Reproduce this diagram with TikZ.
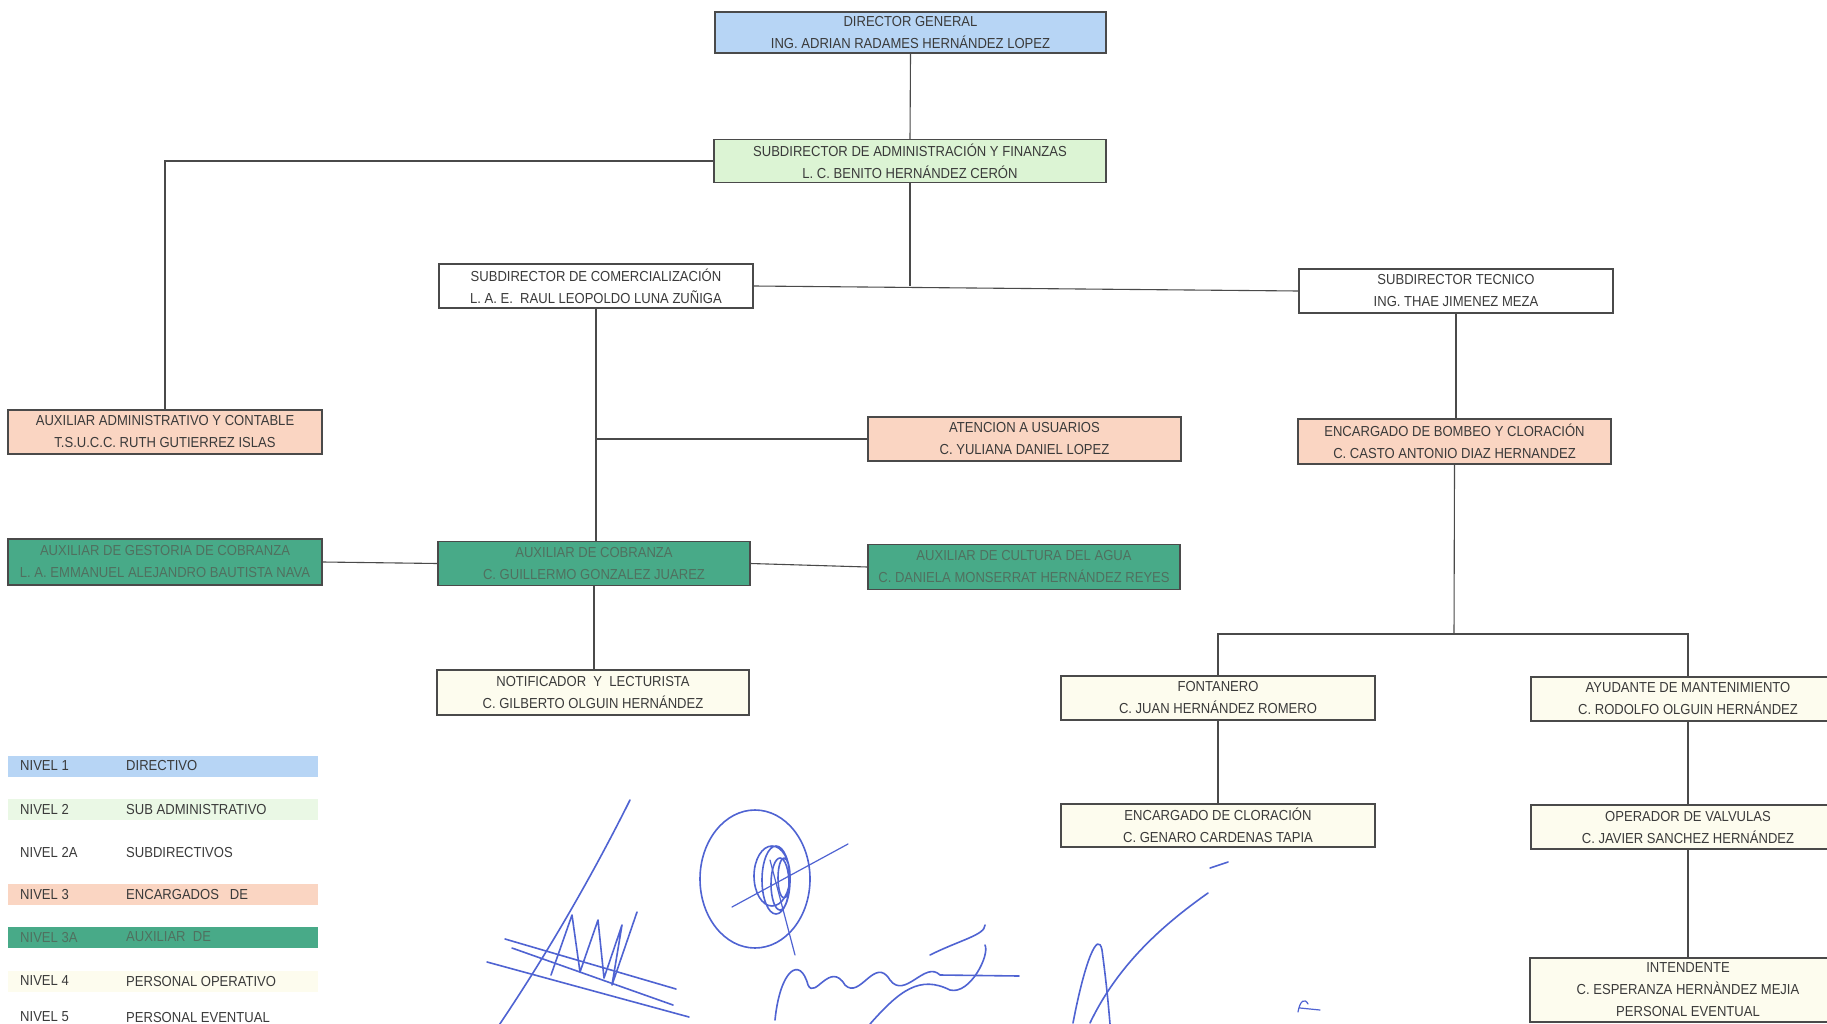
\documentclass[tikz,border=0pt]{standalone}
\usepackage{fontspec}
\setmainfont{Liberation Sans}[FakeStretch=0.9]
\usepackage{xcolor}
\definecolor{lvone}{HTML}{B7D5F5}
\definecolor{lvtwo}{HTML}{DCF4D4}
\definecolor{lvthree}{HTML}{FAD5C2}
\definecolor{lvaux}{HTML}{48AA88}
\definecolor{lvfour}{HTML}{FDFCEE}
\definecolor{auxtext}{HTML}{50705F}
\definecolor{inktext}{HTML}{3A3A3A}
\definecolor{boxline}{HTML}{4A4A4A}
\definecolor{pen}{HTML}{4F63D2}

\begin{document}
\begin{tikzpicture}[x=1pt,y=-1pt,
		puesto/.style={draw=boxline, line width=1.1pt, minimum width=314pt, minimum height=44pt, inner sep=0pt, align=center, text=inktext, font=\fontsize{14.5}{22}\selectfont},
		directivo/.style={puesto, fill=lvone},
		subadmin/.style={puesto, fill=lvtwo},
		subdir/.style={puesto, fill=white},
		encargado/.style={puesto, fill=lvthree},
		auxiliar/.style={puesto, fill=lvaux, text=auxtext},
		operativo/.style={puesto, fill=lvfour},
		liga/.style={draw=boxline, line width=1.1pt},
		legband/.style={minimum width=310pt, minimum height=21pt, inner sep=0pt},
		legtext/.style={anchor=west, inner sep=0pt, text=inktext, font=\fontsize{14.5}{17}\selectfont},
		firma/.style={draw=pen, line width=1.6pt, line cap=round, line join=round}]
	\useasboundingbox[fill=white] (0,0) rectangle (1827,1024);

	\node[directivo, minimum width=391pt, minimum height=41pt] (dir) at (910.5,32.5) {DIRECTOR GENERAL\\ING. ADRIAN RADAMES HERNÁNDEZ LOPEZ};
	\node[subadmin, minimum width=392pt, minimum height=43pt] (adm) at (910,161) {SUBDIRECTOR DE ADMINISTRACIÓN Y FINANZAS\\L. C. BENITO HERNÁNDEZ CERÓN};
	\node[subdir] (com) at (596,286) {SUBDIRECTOR DE COMERCIALIZACIÓN\\L. A. E.\ \ RAUL LEOPOLDO LUNA ZUÑIGA};
	\node[subdir] (tec) at (1456,291) {SUBDIRECTOR TECNICO\\ING. THAE JIMENEZ MEZA};
	\node[encargado] (auxadm) at (165,432) {AUXILIAR ADMINISTRATIVO Y CONTABLE\\T.S.U.C.C. RUTH GUTIERREZ ISLAS};
	\node[encargado, minimum width=313pt] (ate) at (1024.5,439) {ATENCION A USUARIOS\\C. YULIANA DANIEL LOPEZ};
	\node[encargado, minimum width=313pt, minimum height=45pt] (bom) at (1454.5,441.5) {ENCARGADO DE BOMBEO Y CLORACIÓN\\C. CASTO ANTONIO DIAZ HERNANDEZ};
	\node[auxiliar, minimum height=46pt] (ges) at (165,562) {AUXILIAR DE GESTORIA DE COBRANZA\\L. A. EMMANUEL ALEJANDRO BAUTISTA NAVA};
	\node[auxiliar, minimum width=312pt] (cob) at (594,563.5) {AUXILIAR DE COBRANZA\\C. GUILLERMO GONZALEZ JUAREZ};
	\node[auxiliar, minimum width=312pt, minimum height=45pt] (cul) at (1024,567) {AUXILIAR DE CULTURA DEL AGUA\\C. DANIELA MONSERRAT HERNÁNDEZ REYES};
	\node[operativo, minimum width=312pt, minimum height=45pt] (not) at (593,692.5) {NOTIFICADOR\ \ Y\ \ LECTURISTA\\C. GILBERTO OLGUIN HERNÁNDEZ};
	\node[operativo] (fon) at (1218,698) {FONTANERO\\C. JUAN HERNÁNDEZ ROMERO};
	\node[operativo] (ayu) at (1688,699) {AYUDANTE DE MANTENIMIENTO\\C. RODOLFO OLGUIN HERNÁNDEZ};
	\node[operativo, minimum height=43pt] (clo) at (1218,825.5) {ENCARGADO DE CLORACIÓN\\C. GENARO CARDENAS TAPIA};
	\node[operativo] (ope) at (1688,827) {OPERADOR DE VALVULAS\\C. JAVIER SANCHEZ HERNÁNDEZ};
	\node[operativo, minimum width=316pt, minimum height=64pt] (int) at (1688,990) {INTENDENTE\\C. ESPERANZA HERNÀNDEZ MEJIA\\PERSONAL EVENTUAL};

	\coordinate (split) at (1454,634);

	\draw[liga] (dir.south) -- (adm.north);
	\draw[liga] (adm.west) -| (auxadm.north);
	\draw[liga] (com.east) -- (tec.west);
	\draw[liga] (adm.south) -- (adm.south |- com.east);
	\draw[liga] (com.south) -- (com.south |- cob.north);
	\draw[liga] (ate.west) -- (ate.west -| com.south);
	\draw[liga] (cob.south) -- (cob.south |- not.north);
	\draw[liga] (ges.east) -- (cob.west);
	\draw[liga] (cob.east) -- (cul.west);
	\draw[liga] (tec.south) -- (tec.south |- bom.north);
	\draw[liga] (bom.south) -- (split);
	\draw[liga] (fon.north) |- (split) -| (ayu.north);
	\draw[liga] (fon.south) -- (clo.north);
	\draw[liga] (ayu.south) -- (ope.north);
	\draw[liga] (ope.south) -- (int.north);

	\foreach \yy/\col/\lev/\desc/\nm in {766/lvone/NIVEL 1/DIRECTIVO/a,809/lvtwo!60!white/NIVEL 2/SUB ADMINISTRATIVO/b,852/white/NIVEL 2A/SUBDIRECTIVOS/c,894/lvthree/NIVEL 3/ENCARGADOS\ \ \ DE/d,937/lvaux/NIVEL 3A/AUXILIAR\ \ DE/e,981/lvfour/NIVEL 4/PERSONAL OPERATIVO/f,1017/white/NIVEL 5/PERSONAL EVENTUAL/g}{
		\node[legband, fill=\col] (band\nm) at (163,\yy) {};
	}
	\foreach \yy/\lev/\desc/\nm/\tc in {766/NIVEL 1/DIRECTIVO/a/inktext,809/NIVEL 2/SUB ADMINISTRATIVO/b/inktext,852/NIVEL 2A/SUBDIRECTIVOS/c/inktext,894/NIVEL 3/ENCARGADOS\ \ \ DE/d/inktext,937/NIVEL 3A/AUXILIAR\ \ DE/e/auxtext,981/NIVEL 4/PERSONAL OPERATIVO/f/inktext,1017/NIVEL 5/PERSONAL EVENTUAL/g/inktext}{
		\node[legtext, text=\tc] (lev\nm) at (20,\yy) {\lev};
		\node[legtext, text=\tc] (desc\nm) at (126,\yy) {\desc};
	}

	% firmas
	\draw[firma] (630,800) .. controls (580,900) and (530,980) .. (491,1037);
	\draw[firma] (505,939) -- (676,989) (487,962) -- (689,1017) (512,948) -- (673,1005);
	\draw[firma] (551,975) -- (572,915) -- (580,972) -- (598,920) -- (604,978) -- (622,925) -- (612,985) -- (637,912);
	\draw[firma] (755,879) ellipse [x radius=55, y radius=69];
	\draw[firma] (776,880) ellipse [x radius=14, y radius=34] (780,884) ellipse [x radius=9, y radius=26] (772,876) ellipse [x radius=18, y radius=30] (784,878) ellipse [x radius=6, y radius=20];
	\draw[firma, line width=1.2pt] (732,907) -- (848,844);
	\draw[firma, line width=1.2pt] (770,860) -- (795,955);
	\draw[firma] (775,1020) .. controls (780,970) and (800,955) .. (808,985) .. controls (815,1000) and (830,960) .. (845,985) .. controls (860,1000) and (875,955) .. (890,980) .. controls (905,1000) and (925,960) .. (940,975) -- (1019,976);
	\draw[firma] (870,1024) .. controls (900,990) and (920,975) .. (950,990) .. controls (970,995) and (990,955) .. (985,945);
	\draw[firma] (930,955) .. controls (960,940) and (985,935) .. (985,925);
	\draw[firma] (1208,893) .. controls (1170,920) and (1120,960) .. (1090,1023);
	\draw[firma] (1073,1023) .. controls (1085,960) and (1098,930) .. (1102,950) .. controls (1106,980) and (1108,1000) .. (1110,1024);
	\draw[firma] (1210,868) -- (1228,862);
	\draw[firma, line width=1.2pt] (1300,1008) -- (1320,1010) (1298,1012) .. controls (1300,1000) and (1305,998) .. (1308,1004);
\end{tikzpicture}
\end{document}
